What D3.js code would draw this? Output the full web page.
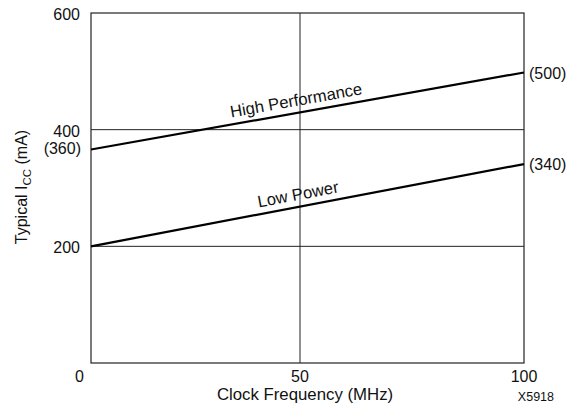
<!DOCTYPE html>
<html><head><meta charset="utf-8">
<script src="https://cdn.jsdelivr.net/npm/d3@7"></script>
<style>body{margin:0;background:#fff}svg{display:block}text{font-family:"Liberation Sans",Arial,sans-serif;fill:#111}</style>
</head><body>
<script>
const freq = [0, 100];
const highPerf = [366, 498];
const lowPower = [200, 341];
const seriesNames = ["High Performance", "Low Power"];
const leftLabels = ["(360)"];
const rightLabels = ["(500)", "(340)"];
const yTicks = [200, 400, 600];
const xTicks = [50, 100];
const gridY = [200, 400];
const gridX = [50];

const W = 581, H = 410, FS = 16;
const svg = d3.select("body").append("svg").attr("width", W).attr("height", H);
const x = d3.scaleLinear().domain([0, 50, 100]).range([91, 300, 524]);
const y = d3.scaleLinear().domain([0, 600]).range([363, 13]);

// grid
svg.selectAll(".gy").data(gridY).join("line")
  .attr("x1", x(0)).attr("x2", x(100)).attr("y1", d => y(d)).attr("y2", d => y(d))
  .attr("stroke", "#222").attr("stroke-width", 1);
svg.selectAll(".gx").data(gridX).join("line")
  .attr("x1", d => x(d)).attr("x2", d => x(d)).attr("y1", y(0)).attr("y2", y(600))
  .attr("stroke", "#222").attr("stroke-width", 1);
// frame
svg.append("rect").attr("x", x(0)).attr("y", y(600)).attr("width", x(100) - x(0)).attr("height", y(0) - y(600))
  .attr("fill", "none").attr("stroke", "#222").attr("stroke-width", 1.2);

// tick labels
svg.selectAll(".yt").data(yTicks).join("text")
  .attr("x", 80).attr("y", d => y(d) + 7).attr("text-anchor", "end").attr("font-size", FS).text(d => d);
svg.append("text").attr("x", 84).attr("y", 382).attr("text-anchor", "end").attr("font-size", FS).text(0);
svg.selectAll(".xt").data(xTicks).join("text")
  .attr("x", d => x(d)).attr("y", 382).attr("text-anchor", "middle").attr("font-size", FS).text(d => d);

// lines
const line = d3.line().x((d, i) => x(freq[i])).y(d => y(d));
[highPerf, lowPower].forEach(s => {
  svg.append("path").attr("d", line(s)).attr("fill", "none").attr("stroke", "#000").attr("stroke-width", 2.2);
});

// series labels rotated along lines
[[highPerf, 297], [lowPower, 299]].forEach(([s, cx], i) => {
  const x0 = x(freq[0]), x1 = x(freq[1]), y0 = y(s[0]), y1 = y(s[1]);
  const ang = Math.atan2(y1 - y0, x1 - x0) * 180 / Math.PI;
  const t = (cx - x0) / (x1 - x0);
  const py = y0 + (y1 - y0) * t - 7;
  svg.append("text").attr("transform", `translate(${cx},${py}) rotate(${ang})`)
    .attr("text-anchor", "middle").attr("font-size", 16.6).text(seriesNames[i]);
});

// end value labels
svg.append("text").attr("x", 81).attr("y", y(highPerf[0]) + 4).attr("text-anchor", "end").attr("font-size", FS).text(leftLabels[0]);
svg.append("text").attr("x", 529).attr("y", y(highPerf[1]) + 6).attr("font-size", FS).text(rightLabels[0]);
svg.append("text").attr("x", 529).attr("y", y(lowPower[1]) + 6).attr("font-size", FS).text(rightLabels[1]);

// axis titles
svg.append("text").attr("x", 305).attr("y", 400).attr("text-anchor", "middle").attr("font-size", 16.8).text("Clock Frequency (MHz)");
const yt = svg.append("text").attr("transform", `translate(27,187) rotate(-90)`)
  .attr("text-anchor", "middle").attr("font-size", FS);
yt.append("tspan").text("Typical I");
yt.append("tspan").attr("font-size", 11.5).attr("dy", 4).text("CC");
yt.append("tspan").attr("dy", -4).text(" (mA)");

svg.append("text").attr("x", 554).attr("y", 401).attr("text-anchor", "end").attr("font-size", 12.5).text("X5918");
</script>
</body></html>
